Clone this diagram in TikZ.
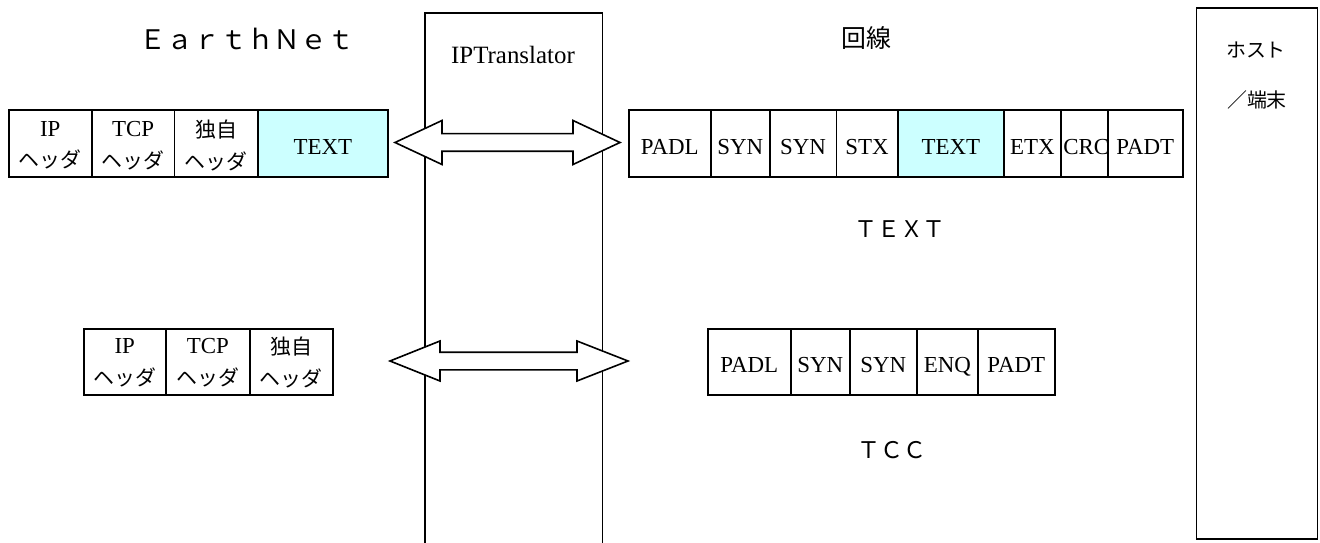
\documentclass[tikz,border=0pt]{standalone}
\usepackage{fontspec}
\setmainfont{Liberation Serif}
\newfontfamily\jp{Noto Sans CJK JP}
\definecolor{cellcyan}{HTML}{CCFFFF}
\newcommand\hdr{{\jp\fontsize{21}{32}\selectfont ヘッダ}}
\newcommand\dok{{\jp\fontsize{21}{32}\selectfont 独自}}
\tikzset{
  cell/.style={draw, line width=1.6bp, minimum height=67bp, inner sep=0pt, anchor=north west,
    font=\fontsize{23}{32}\selectfont, text height=22bp, text depth=0pt},
  cellb/.style={cell, minimum height=66bp},
  twoline/.style={align=center, inner sep=0pt, font=\fontsize{23}{32}\selectfont},
  cyancell/.style={cell, fill=cellcyan},
  jplbl/.style={font=\jp\fontsize{20}{20}\selectfont, inner sep=0pt},
  biglbl/.style={font=\jp\fontsize{27}{27}\selectfont, inner sep=0pt},
  midlbl/.style={font=\jp\fontsize{23}{23}\selectfont, inner sep=0pt},
  dblarrow/.style={draw, fill=white, line width=1.6bp, line join=miter},
}
\begin{document}
\begin{tikzpicture}[x=1bp,y=-1bp,line width=1.6bp]
\useasboundingbox (0,0) rectangle (1320,543);

% IPTranslator column (open at the bottom)
\node[minimum width=176bp, minimum height=530bp, anchor=north west, inner sep=0pt] (ipt) at (425,13) {};
\draw (ipt.south west) -- (ipt.north west) -- (ipt.north east) -- (ipt.south east);
\node[font=\fontsize{25}{25}\selectfont, inner sep=0pt] (iptl) at (513,55) {IPTranslator};

% Host box
\node[draw, minimum width=121bp, minimum height=531bp, anchor=north west, inner sep=0pt] (host) at (1195.5,7) {};
\node[jplbl] (hostl1) at (1256,50) {ホスト};
\node[jplbl] (hostl2) at (1257,100) {／端末};

% titles
\node[biglbl] (earth) at (247,39) {ＥａｒｔｈＮｅｔ};
\node[font=\jp\fontsize{25}{25}\selectfont, inner sep=0pt] (kaisen) at (866,38) {回線};
\node[midlbl] (textl) at (900,229) {ＴＥＸＴ};
\node[midlbl] (tccl) at (892,450) {ＴＣＣ};

% row 1, EarthNet side
\node[cell, minimum width=83bp] (e1) at (8,109) {};
\node[cell, minimum width=82.5bp] (e2) at (91,109) {};
\node[cell, minimum width=83.5bp] (e3) at (173.5,109) {};
\node[cyancell, minimum width=130bp] (e4) at (257,109) {TEXT};
\node[twoline] (e1t) at ([yshift=-2bp]e1.center) {IP\\\hdr};
\node[twoline] (e2t) at ([yshift=-2bp]e2.center) {TCP\\\hdr};
\node[twoline] (e3t) at ([yshift=-2bp]e3.center) {\dok\\\hdr};

% row 1, line side
\node[cell, minimum width=82bp] (r1) at (628,109) {PADL};
\node[cell, minimum width=59bp] (r2) at (710,109) {SYN};
\node[cell, minimum width=66.5bp] (r3) at (769,109) {SYN};
\node[cell, minimum width=61.5bp] (r4) at (835.5,109) {STX};
\node[cyancell, minimum width=106bp] (r5) at (897,109) {TEXT};
\node[cell, minimum width=57bp] (r6) at (1003,109) {ETX};
\node[cell, minimum width=47bp] (r7) at (1060,109) {};
\node[anchor=west, inner sep=0pt, font=\fontsize{23}{32}\selectfont, text height=22bp, text depth=0pt]
  (r7t) at ([xshift=2.5bp]r7.west) {CRC};
\node[cell, fill=white, minimum width=75bp] (r8) at (1107,109) {PADT};

% row 2, EarthNet side
\node[cellb, minimum width=82bp] (f1) at (83,328) {};
\node[cellb, minimum width=84bp] (f2) at (165,328) {};
\node[cellb, minimum width=83bp] (f3) at (249,328) {};
\node[twoline] (f1t) at ([yshift=-1bp]f1.center) {IP\\\hdr};
\node[twoline] (f2t) at ([yshift=-1bp]f2.center) {TCP\\\hdr};
\node[twoline] (f3t) at ([yshift=-1bp]f3.center) {\dok\\\hdr};

% row 2, line side
\node[cellb, minimum width=83bp] (s1) at (707,328) {PADL};
\node[cellb, minimum width=59bp] (s2) at (790,328) {SYN};
\node[cellb, minimum width=67bp] (s3) at (849,328) {SYN};
\node[cellb, minimum width=61bp] (s4) at (916,328) {ENQ};
\node[cellb, minimum width=77bp] (s5) at (977,328) {PADT};

% double arrows
\draw[dblarrow] (395,142.5) -- (442,120.5) -- (442,133.7) -- (573,133.7) -- (573,120.5) -- (620,142.5)
  -- (573,164.5) -- (573,151.3) -- (442,151.3) -- (442,164.5) -- cycle;
\draw[dblarrow] (390,361) -- (440,341) -- (440,352.2) -- (577,352.2) -- (577,341) -- (628,361)
  -- (577,381) -- (577,369.8) -- (440,369.8) -- (440,381) -- cycle;
\end{tikzpicture}
\end{document}
